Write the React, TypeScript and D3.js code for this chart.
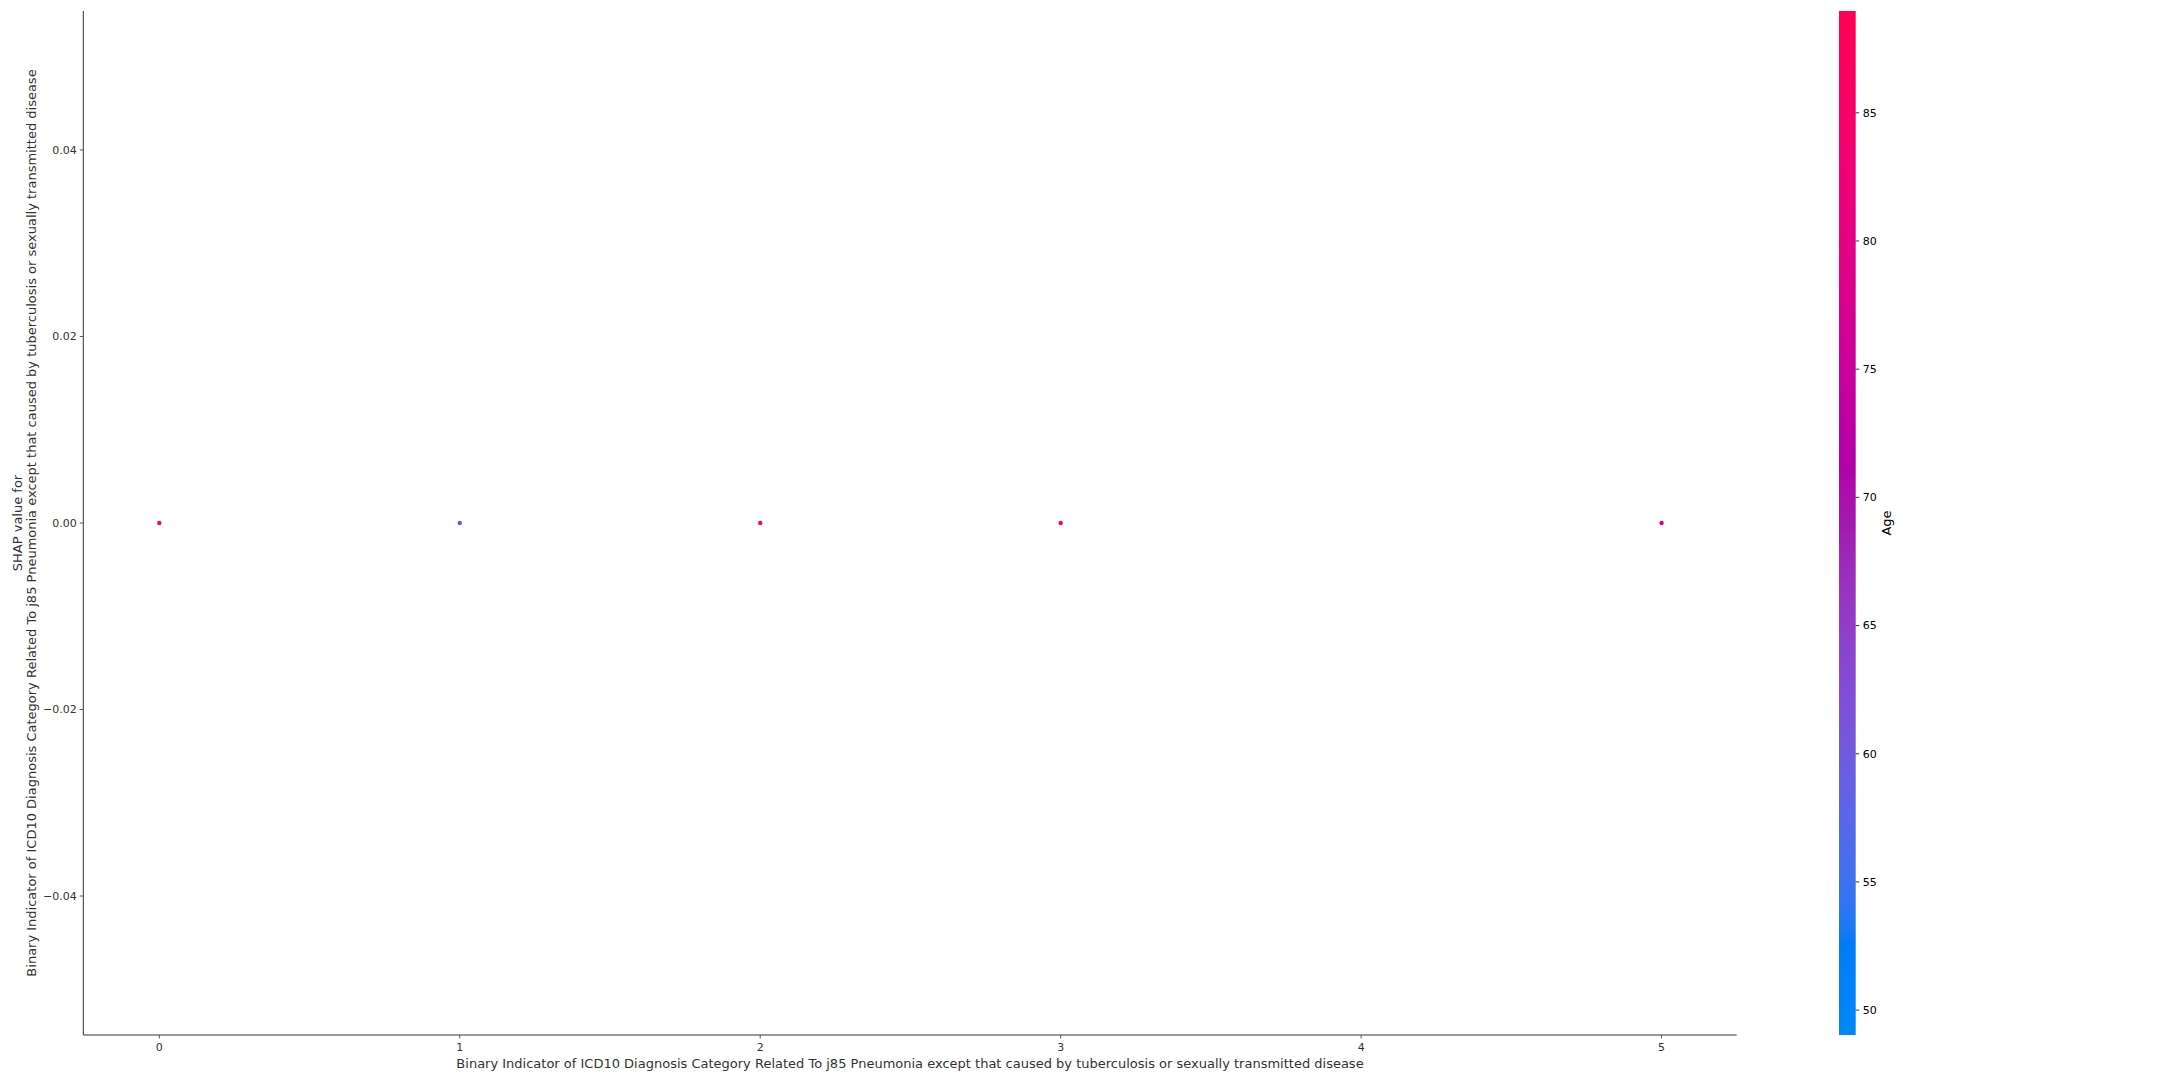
import React from "react";
import * as d3 from "d3";

const featureValues = [0, 1, 2, 3, 5];
const shapValues = [0, 0, 0, 0, 0];
const ageValues = [85, 62, 86, 87, 78];
const xTicks = [0, 1, 2, 3, 4, 5];
const yTicks = [0.04, 0.02, 0.0, -0.02, -0.04];
const ageTicks = [50, 55, 60, 65, 70, 75, 80, 85];

const xLabel =
  "Binary Indicator of ICD10 Diagnosis Category Related To j85 Pneumonia except that caused by tuberculosis or sexually transmitted disease";
const yLabel1 = "SHAP value for";
const yLabel2 = xLabel;

// SHAP red_blue colormap (LCH interpolation)
function redBlue(t: number): string {
  const l = t < 0.5 ? 54 + (40 - 54) * (t / 0.5) : 40 + (54 - 40) * ((t - 0.5) / 0.5);
  const c = 70 + (90 - 70) * t;
  const h = 266.93 + (380.32 - 266.93) * t;
  return d3.hcl(h % 360, c, l).formatHex();
}

export default function App() {
  const W = 2160;
  const H = 1080;
  const left = 83.3;
  const right = 1736.7;
  const top = 11;
  const bottom = 1035;

  const x = d3.scaleLinear().domain([-0.253, 5.25]).range([left, right]);
  const y = d3.scaleLinear().domain([-0.0549, 0.0549]).range([bottom, top]);
  const cbX0 = 1839;
  const cbX1 = 1855.7;
  const c = d3.scaleLinear().domain([49.03, 88.97]).range([bottom, top]);
  const colorNorm = d3.scaleLinear().domain([49.03, 88.97]).range([0, 1]).clamp(true);

  const fmtY = (v: number) => {
    const s = Math.abs(v).toFixed(2);
    return v < -1e-9 ? "\u2212" + s : s;
  };

  const stops = d3.range(0, 101).map((i) => i / 100);
  const axisColor = "#333333";
  const font = "DejaVu Sans, sans-serif";

  return (
    <svg width={W} height={H} style={{ position: "absolute", left: 0, top: 0 }} fontFamily={font}>
      <defs>
        <linearGradient id="cbgrad" x1="0" y1="1" x2="0" y2="0">
          {stops.map((t) => (
            <stop key={t} offset={t} stopColor={redBlue(t)} />
          ))}
        </linearGradient>
      </defs>
      <rect x={0} y={0} width={W} height={H} fill="#ffffff" />

      {/* points */}
      {featureValues.map((fv, i) => (
        <circle
          key={i}
          cx={x(fv)}
          cy={y(shapValues[i])}
          r={2.2}
          fill={redBlue(colorNorm(ageValues[i]))}
        />
      ))}

      {/* spines */}
      <line x1={left} x2={left} y1={top} y2={bottom} stroke={axisColor} strokeWidth={1} />
      <line x1={left} x2={right} y1={bottom} y2={bottom} stroke={axisColor} strokeWidth={1} />

      {/* x ticks */}
      {xTicks.map((t) => (
        <g key={t}>
          <line x1={x(t)} x2={x(t)} y1={bottom} y2={bottom + 3.5} stroke={axisColor} strokeWidth={0.8} />
          <text x={x(t)} y={bottom + 15.5} fontSize={11} fill={axisColor} textAnchor="middle">
            {t}
          </text>
        </g>
      ))}

      {/* y ticks */}
      {yTicks.map((t) => (
        <g key={t}>
          <line x1={left - 3.5} x2={left} y1={y(t)} y2={y(t)} stroke={axisColor} strokeWidth={0.8} />
          <text x={left - 6.5} y={y(t)} dy="0.35em" fontSize={11} fill={axisColor} textAnchor="end">
            {fmtY(t)}
          </text>
        </g>
      ))}

      {/* axis labels */}
      <text x={(left + right) / 2} y={bottom + 33} fontSize={13} fill={axisColor} textAnchor="middle">
        {xLabel}
      </text>
      <text
        transform={`translate(21.5, ${(top + bottom) / 2}) rotate(-90)`}
        fontSize={13}
        fill={axisColor}
        textAnchor="middle"
      >
        {yLabel1}
      </text>
      <text
        transform={`translate(35.5, ${(top + bottom) / 2}) rotate(-90)`}
        fontSize={13}
        fill={axisColor}
        textAnchor="middle"
      >
        {yLabel2}
      </text>

      {/* colorbar */}
      <rect x={cbX0} y={top} width={cbX1 - cbX0} height={bottom - top} fill="url(#cbgrad)" />
      {ageTicks.map((t) => (
        <g key={t}>
          <line x1={cbX1} x2={cbX1 + 3.5} y1={c(t)} y2={c(t)} stroke="#000" strokeWidth={0.8} />
          <text x={cbX1 + 7} y={c(t)} dy="0.35em" fontSize={11} fill="#000">
            {t}
          </text>
        </g>
      ))}
      <text
        transform={`translate(1891, ${(top + bottom) / 2}) rotate(-90)`}
        fontSize={13}
        fill="#000"
        textAnchor="middle"
      >
        Age
      </text>
    </svg>
  );
}
